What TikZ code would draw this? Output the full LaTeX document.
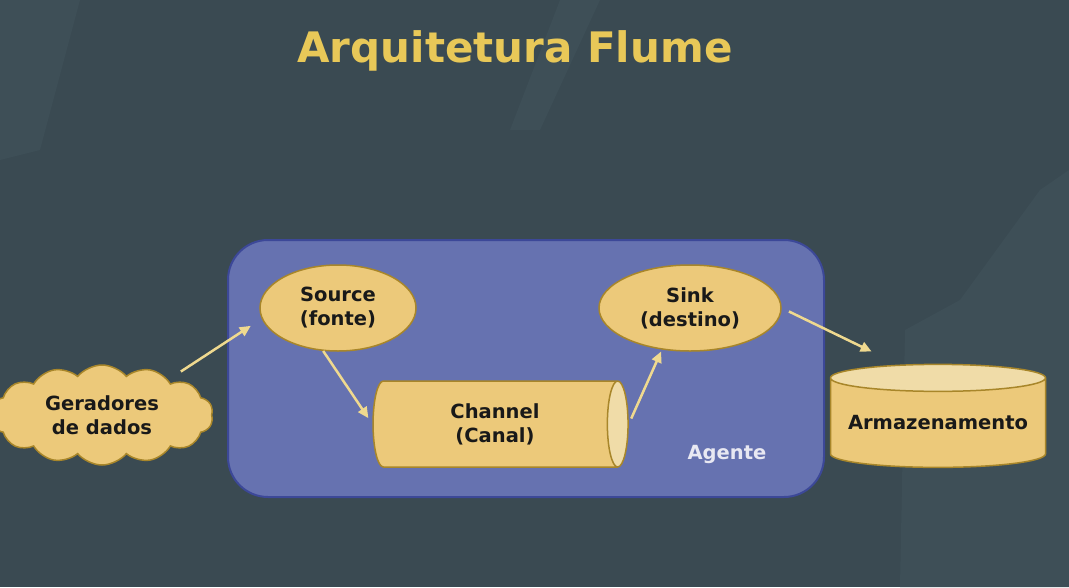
\documentclass[tikz,border=0pt]{standalone}
\usepackage{fontspec}
\setmainfont{DejaVu Sans}
\usetikzlibrary{shapes.geometric,shapes.symbols,arrows.meta}
\definecolor{bgc}{HTML}{3A4A52}
\definecolor{bgl}{HTML}{3E4F57}
\definecolor{agentfill}{HTML}{6672B0}
\definecolor{agentdraw}{HTML}{3C4898}
\definecolor{boxfill}{HTML}{ECC97A}
\definecolor{boxend}{HTML}{F0DCA8}
\definecolor{boxdraw}{HTML}{A8862A}
\definecolor{arrowc}{HTML}{EFD98F}
\definecolor{titlec}{HTML}{E8C858}
\definecolor{agenttext}{HTML}{E8E8F2}
\tikzset{
  elemtext/.style={draw=boxdraw, line width=1.5pt, text=black!90,
    font=\fontsize{19.5}{24}\selectfont\bfseries, align=center, inner sep=0pt},
  elem/.style={elemtext, fill=boxfill},
  ellbox/.style={elem, ellipse},
  cyl/.style={elemtext, cylinder, cylinder uses custom fill,
    cylinder body fill=boxfill, cylinder end fill=boxend},
  conn/.style={draw=arrowc, line width=2.5pt, -{Triangle[length=11pt,width=10pt]}},
}
\begin{document}
\begin{tikzpicture}[x=1pt,y=-1pt]
\useasboundingbox (0,0) rectangle (1069,587);
\fill[bgc] (0,0) rectangle (1069,587);
% faint background texture
\fill[bgl] (560,0) -- (600,0) -- (540,130) -- (510,130) -- cycle;
\fill[bgl] (1069,170) -- (1069,587) -- (900,587) -- (905,330) -- (960,300) -- (1040,190) -- cycle;
\fill[bgl] (0,0) -- (80,0) -- (40,150) -- (0,160) -- cycle;

% title
\node[font=\fontsize{42}{48}\selectfont\bfseries, text=titlec] (title) at (515,51) {Arquitetura Flume};

% agent box
\node[draw=agentdraw, fill=agentfill, line width=2pt, rounded corners=40pt,
      minimum width=596pt, minimum height=257pt, inner sep=0pt] (agent) at (526,368.5) {};
\node[font=\fontsize{19.5}{24}\selectfont\bfseries, text=agenttext] (agentlbl) at (727,454) {Agente};

% elements
\node[ellbox, minimum width=156pt, minimum height=86pt] (src) at (338,308) {Source\\(fonte)};
\node[ellbox, minimum width=182pt, minimum height=86pt] (sink) at (690,308) {Sink\\(destino)};
\node[cyl, shape aspect=0.5, minimum width=86pt, minimum height=255pt] (chan) at (495,424) {Channel\\(Canal)};
\node[cyl, shape border rotate=90, shape aspect=0.15,
      minimum width=215pt, minimum height=103pt] (store) at (938,423) {Armazenamento};
\node[elem, cloud, cloud puffs=14, cloud puff arc=100, aspect=2.3,
      minimum width=222pt, minimum height=100pt] (cloud) at (102,415) {Geradores\\de dados};

% connectors
\draw[conn, shorten <=15pt, shorten >=13pt] (cloud.28) -- (src.188);
\draw[conn, shorten >=7pt] (src.251) -- (chan.west);
\draw[conn, shorten <=6pt, shorten >=2pt] (chan.east) -- (sink.236);
\draw[conn, shorten <=8pt, shorten >=30pt] (sink.0) -- (store.124);
\end{tikzpicture}
\end{document}
